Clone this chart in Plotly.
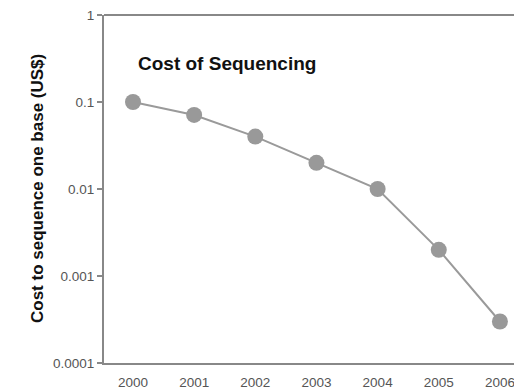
import plotly.graph_objects as go

years = [2000, 2001, 2002, 2003, 2004, 2005, 2006]
cost = [0.1, 0.071, 0.04, 0.02, 0.01, 0.002, 0.0003]
y_ticks = [1, 0.1, 0.01, 0.001, 0.0001]
y_tick_labels = ["1", "0.1", "0.01", "0.001", "0.0001"]

fig = go.Figure()
fig.add_trace(go.Scatter(
    x=years, y=cost, mode="lines+markers",
    line=dict(color="#9a9a9a", width=2),
    marker=dict(color="#999999", size=16),
    cliponaxis=False, showlegend=False,
))

fig.update_layout(
    width=514, height=391,
    margin=dict(l=104, r=0, t=15, b=28),
    paper_bgcolor="white", plot_bgcolor="white",
    font=dict(family="Liberation Sans, Arial, sans-serif", color="#555555"),
    xaxis=dict(
        range=[1999.526, 2006.23], tickmode="array", tickvals=years,
        ticktext=[str(y) for y in years], showgrid=False, zeroline=False,
        showline=True, linecolor="#888888", linewidth=2, ticks="",
        tickfont=dict(size=13.5, color="#555555"),
        ticklabeloverflow="allow", ticklabelstandoff=6,
    ),
    yaxis=dict(
        type="log", range=[-4, 0], tickmode="array", tickvals=y_ticks,
        ticktext=y_tick_labels, showgrid=False, zeroline=False,
        showline=True, linecolor="#888888", linewidth=2, ticks="outside",
        ticklen=5, tickcolor="#888888", tickwidth=1.5,
        tickfont=dict(size=13.5, color="#555555"),
        ticklabeloverflow="allow",
    ),
    shapes=[dict(type="line", xref="paper", yref="paper", x0=0, x1=1, y0=1, y1=1,
                 line=dict(color="#888888", width=2))],
    annotations=[
        dict(text="<b>Cost of Sequencing</b>", xref="paper", yref="paper",
             x=(136-104)/410, y=1-(64-15)/348, xanchor="left", yanchor="middle",
             showarrow=False, font=dict(size=19, color="#111111")),
        dict(text="<b>Cost to sequence one base (US$)</b>", xref="paper", yref="paper",
             x=(37-104)/410, y=0.5, xanchor="center", yanchor="middle", textangle=-90,
             showarrow=False, font=dict(size=17, color="#111111")),
    ],
)

fig.write_html("out.html", config={"displayModeBar": False},
               post_script="document.body.style.margin='0';document.body.style.overflow='hidden';")
